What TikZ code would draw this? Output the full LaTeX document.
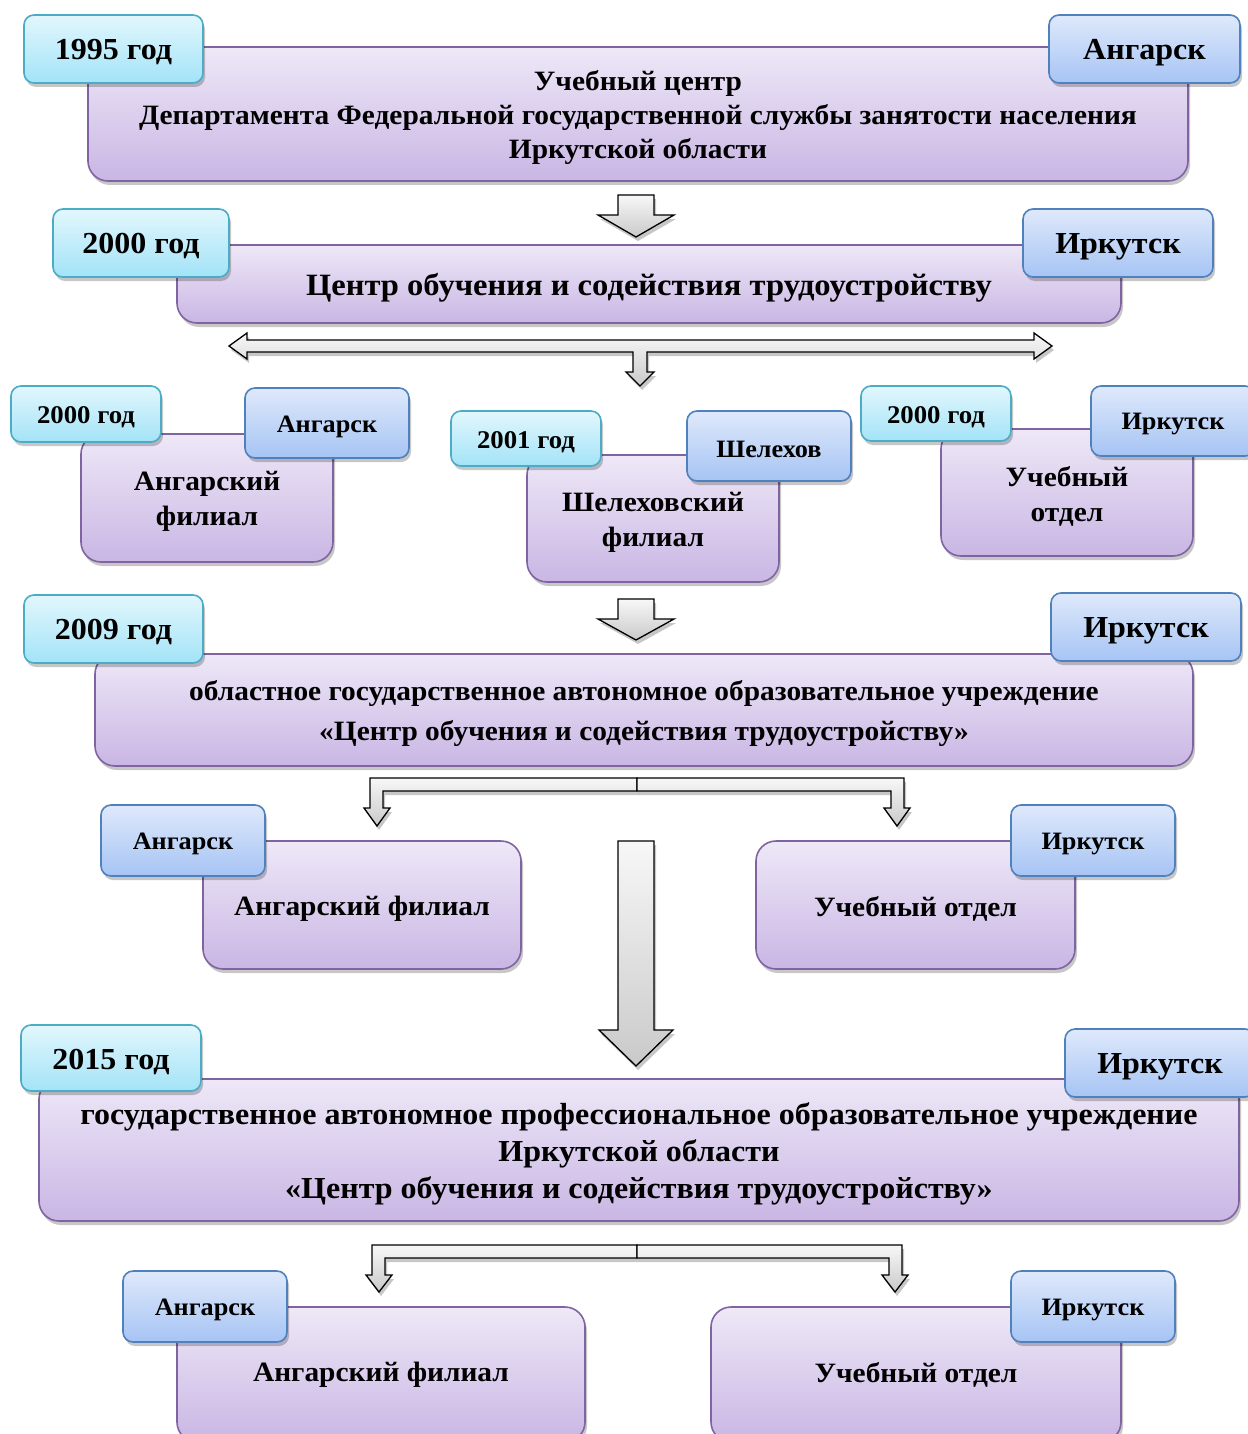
\documentclass[tikz,border=0pt]{standalone}
\usepackage{fontspec}
\setmainfont{Liberation Serif}[FakeStretch=1.05]
\usetikzlibrary{shadows}
\definecolor{pbord}{HTML}{8064A2}
\definecolor{ptop}{HTML}{EEE8F7}
\definecolor{pbot}{HTML}{C9B6E4}
\definecolor{ybord}{HTML}{4BACC6}
\definecolor{ytop}{HTML}{E2F7FD}
\definecolor{ybot}{HTML}{A3E3F7}
\definecolor{cbord}{HTML}{4F81BD}
\definecolor{ctop}{HTML}{DFE9FB}
\definecolor{cbot}{HTML}{A6C4F4}
\tikzset{
  shad/.style={drop shadow={shadow xshift=2pt, shadow yshift=-4pt, opacity=0.22, fill=black}},
  pbox/.style={shad, draw=pbord, line width=1.6pt, rounded corners=20pt, top color=ptop, bottom color=pbot, inner sep=0pt},
  ytag/.style={shad, draw=ybord, line width=1.6pt, rounded corners=10pt, top color=ytop, bottom color=ybot, inner sep=0pt},
  ctag/.style={shad, draw=cbord, line width=1.6pt, rounded corners=10pt, top color=ctop, bottom color=cbot, inner sep=0pt},
  txt/.style={align=center, inner sep=0pt, yshift=-3.5pt},
  blockarrow/.style={shad, draw=black, line width=1.3pt, line join=miter, top color=gray!6, bottom color=gray!42},
  sz/.style n args={2}{minimum width=#1, minimum height=#2},
}
\newcommand{\fs}[2]{\bfseries\fontsize{#1}{#2}\selectfont}
\begin{document}
\begin{tikzpicture}[x=1pt,y=-1pt]
\useasboundingbox[fill=white] (0,0) rectangle (1247,1434);

% ---------- 1995 ----------
\node[pbox, sz={1100}{134}] (b1) at (638,114) {};
\node[txt, font=\fs{28}{34}] (b1t) at (b1.center)
  {Учебный центр\\Департамента Федеральной государственной службы занятости населения\\Иркутской области};
\node[ytag, sz={179}{68}] (t1) at (113.5,49) {};
\node[txt, font=\fs{30.5}{34}] (t1t) at (t1.center) {1995 год};
\node[ctag, sz={191}{68}] (c1) at (1144.5,49) {};
\node[txt, font=\fs{30.5}{34}] (c1t) at (c1.center) {Ангарск};

% arrow 1
\draw[blockarrow] (618,195) -- (654,195) -- (654,215) -- (674,215) -- (636,237) -- (598,215) -- (618,215) -- cycle;

% ---------- 2000 ----------
\node[pbox, sz={944}{78}] (b2) at (649,284) {};
\node[txt, font=\fs{31}{34}] (b2t) at (b2.center) {Центр обучения и содействия трудоустройству};
\node[ytag, sz={176}{68}] (t2) at (141,243) {};
\node[txt, font=\fs{30.5}{34}] (t2t) at (t2.center) {2000 год};
\node[ctag, sz={190}{68}] (c2) at (1118,243) {};
\node[txt, font=\fs{30.5}{34}] (c2t) at (c2.center) {Иркутск};

% double arrow with stem
\draw[blockarrow] (229,346) -- (247,333) -- (247,340) -- (1034,340) -- (1034,333) -- (1052,346) -- (1034,359) -- (1034,352)
  -- (647,352) -- (647,372) -- (654,372) -- (640,386) -- (626,372) -- (633,372) -- (633,352) -- (247,352) -- (247,359) -- cycle;

% ---------- branches 2000/2001 ----------
\node[pbox, sz={252}{128}] (b3a) at (207,498) {};
\node[txt, font=\fs{28}{35}] (b3at) at (b3a.center) {Ангарский\\филиал};
\node[ytag, sz={150}{56}] (t3a) at (86,414) {};
\node[txt, font=\fs{25.5}{28}] (t3at) at (t3a.center) {2000 год};
\node[ctag, sz={164}{70}] (c3a) at (327,423) {};
\node[txt, font=\fs{25}{28}] (c3at) at (c3a.center) {Ангарск};

\node[pbox, sz={252}{127}] (b3b) at (653,518.5) {};
\node[txt, font=\fs{28}{35}] (b3bt) at (b3b.center) {Шелеховский\\филиал};
\node[ytag, sz={150}{55}] (t3b) at (526,438.5) {};
\node[txt, font=\fs{25.5}{28}] (t3bt) at (t3b.center) {2001 год};
\node[ctag, sz={164}{70}] (c3b) at (769,446) {};
\node[txt, font=\fs{25}{28}] (c3bt) at (c3b.center) {Шелехов};

\node[pbox, sz={252}{127}] (b3c) at (1067,492.5) {};
\node[txt, font=\fs{28}{35}] (b3ct) at (b3c.center) {Учебный\\отдел};
\node[ytag, sz={150}{55}] (t3c) at (936,413.5) {};
\node[txt, font=\fs{25.5}{28}] (t3ct) at (t3c.center) {2000 год};
\node[ctag, sz={164}{70}] (c3c) at (1173,421) {};
\node[txt, font=\fs{25}{28}] (c3ct) at (c3c.center) {Иркутск};

% arrow 4
\draw[blockarrow] (618,599) -- (654,599) -- (654,619) -- (674,619) -- (636,640) -- (598,619) -- (618,619) -- cycle;

% ---------- 2009 ----------
\node[pbox, sz={1098}{112}] (b4) at (644,710) {};
\node[txt, font=\fs{28}{40}] (b4t) at (b4.center)
  {областное государственное автономное образовательное учреждение\\«Центр обучения и содействия трудоустройству»};
\node[ytag, sz={179}{68}] (t4) at (113.5,629) {};
\node[txt, font=\fs{30.5}{34}] (t4t) at (t4.center) {2009 год};
\node[ctag, sz={190}{68}] (c4) at (1146,627) {};
\node[txt, font=\fs{30.5}{34}] (c4t) at (c4.center) {Иркутск};

% split arrow 1
\draw[blockarrow] (637,778) -- (370,778) -- (370,808) -- (364,808) -- (377,826) -- (390,808) -- (383,808) -- (383,791) -- (637,791) -- cycle;
\draw[blockarrow] (637,778) -- (904,778) -- (904,808) -- (910,808) -- (897,826) -- (884,808) -- (891,808) -- (891,791) -- (637,791) -- cycle;

% long arrow
\draw[blockarrow] (618,841) -- (654,841) -- (654,1030) -- (673,1030) -- (636,1066) -- (599,1030) -- (618,1030) -- cycle;

\node[pbox, sz={318}{128}] (b5a) at (362,905) {};
\node[txt, font=\fs{28}{35}] (b5at) at (b5a.center) {Ангарский филиал};
\node[ctag, sz={164}{71}] (c5a) at (183,840.5) {};
\node[txt, font=\fs{25}{28}] (c5at) at (c5a.center) {Ангарск};
\node[pbox, sz={319}{128}] (b5b) at (915.5,905) {};
\node[txt, font=\fs{28}{35}] (b5bt) at (b5b.center) {Учебный отдел};
\node[ctag, sz={164}{71}] (c5b) at (1093,840.5) {};
\node[txt, font=\fs{25}{28}] (c5bt) at (c5b.center) {Иркутск};

% ---------- 2015 ----------
\node[pbox, sz={1200}{142}] (b6) at (639,1150) {};
\node[txt, font=\fs{30.5}{37}] (b6t) at (b6.center)
  {государственное автономное профессиональное образовательное учреждение\\Иркутской области\\«Центр обучения и содействия трудоустройству»};
\node[ytag, sz={180}{66}] (t6) at (111,1058) {};
\node[txt, font=\fs{30.5}{34}] (t6t) at (t6.center) {2015 год};
\node[ctag, sz={190}{68}] (c6) at (1160,1063) {};
\node[txt, font=\fs{30.5}{34}] (c6t) at (c6.center) {Иркутск};

% split arrow 2
\draw[blockarrow] (637,1245) -- (372,1245) -- (372,1275) -- (366,1275) -- (379,1292) -- (392,1275) -- (385,1275) -- (385,1258) -- (637,1258) -- cycle;
\draw[blockarrow] (637,1245) -- (902,1245) -- (902,1275) -- (908,1275) -- (895,1292) -- (882,1275) -- (889,1275) -- (889,1258) -- (637,1258) -- cycle;

\node[pbox, sz={408}{135}] (b7a) at (381,1374.5) {};
\node[txt, font=\fs{28}{35}, yshift=3.5pt] (b7at) at (381,1375) {Ангарский филиал};
\node[ctag, sz={164}{71}] (c7a) at (205,1306.5) {};
\node[txt, font=\fs{25}{28}] (c7at) at (c7a.center) {Ангарск};
\node[pbox, sz={410}{135}] (b7b) at (916,1374.5) {};
\node[txt, font=\fs{28}{35}, yshift=3.5pt] (b7bt) at (916,1375) {Учебный отдел};
\node[ctag, sz={164}{71}] (c7b) at (1093,1306.5) {};
\node[txt, font=\fs{25}{28}] (c7bt) at (c7b.center) {Иркутск};
\end{tikzpicture}
\end{document}
